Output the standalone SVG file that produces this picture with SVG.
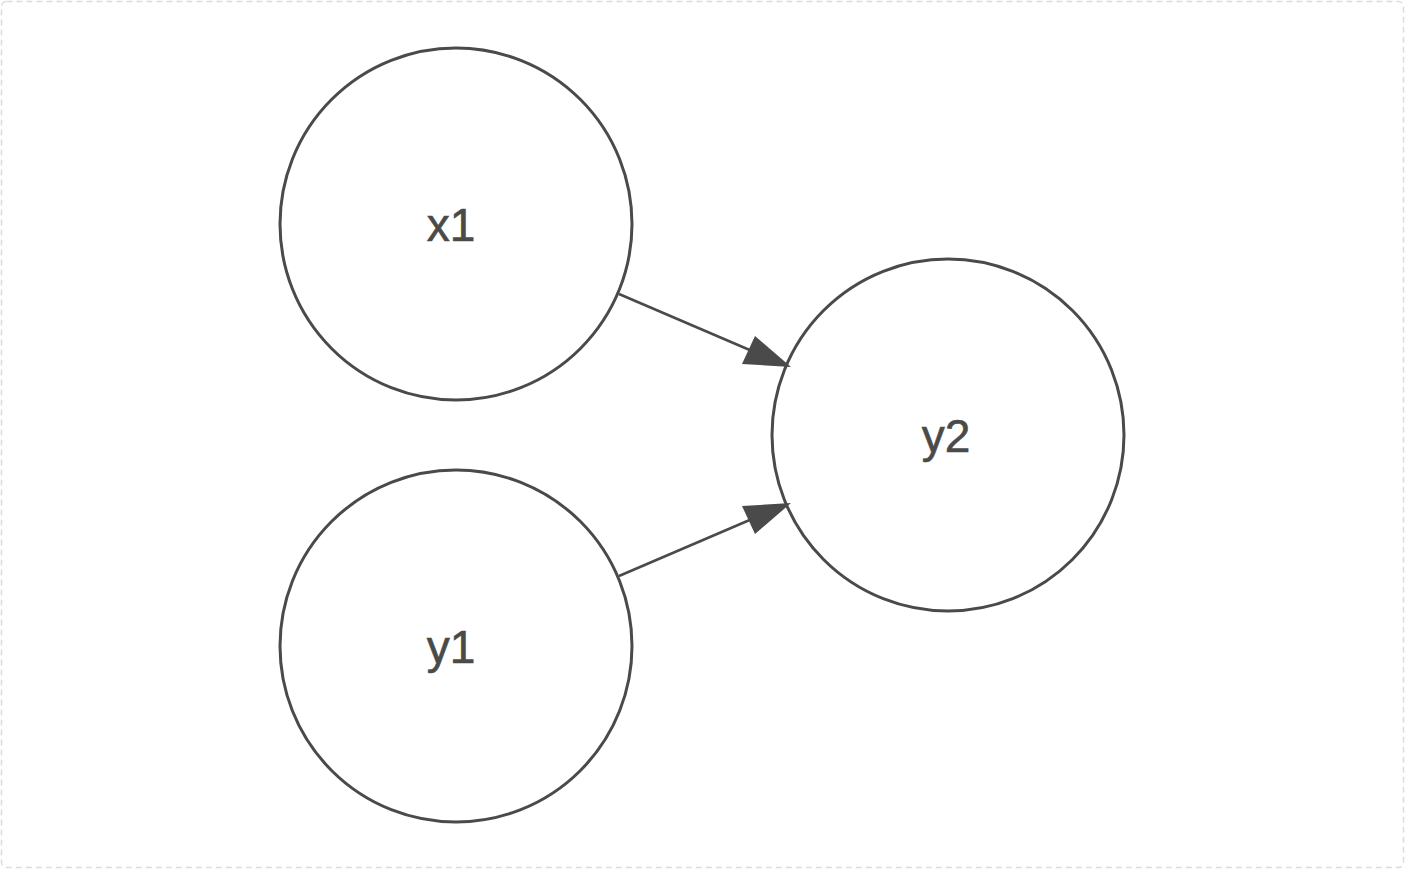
<svg xmlns="http://www.w3.org/2000/svg" width="1410" height="874" viewBox="0 0 1410 874">
<style>
.node circle{fill:#fff;stroke:#4a4a4a;stroke-width:3}
.node text{font-family:"Liberation Sans",Arial,sans-serif;font-size:46px;fill:#4a4a4a;text-anchor:middle;stroke:#4a4a4a;stroke-width:0.6}
.edge{stroke:#4a4a4a;stroke-width:2.5;fill:none}
.head{fill:#4a4a4a}
</style>
<rect x="1.5" y="1.5" width="1402" height="866" rx="5" fill="#fff" stroke="#dcdcdc" stroke-width="1.5" stroke-dasharray="6 4"/>
<g id="x1" class="node"><circle cx="456" cy="224" r="176"/><text x="451" y="241">x1</text></g>
<g id="y1" class="node"><circle cx="456" cy="646" r="176"/><text x="451" y="663">y1</text></g>
<g id="y2" class="node"><circle cx="948" cy="435" r="176"/><text x="946" y="452">y2</text></g>
<g id="connectors">
<line class="edge" x1="619" y1="294" x2="752" y2="351"/>
<polygon class="head" points="791,367 742,364 755,336"/>
<line class="edge" x1="619" y1="576" x2="752" y2="519"/>
<polygon class="head" points="791,503 742,506 755,534"/>
</g>
</svg>
